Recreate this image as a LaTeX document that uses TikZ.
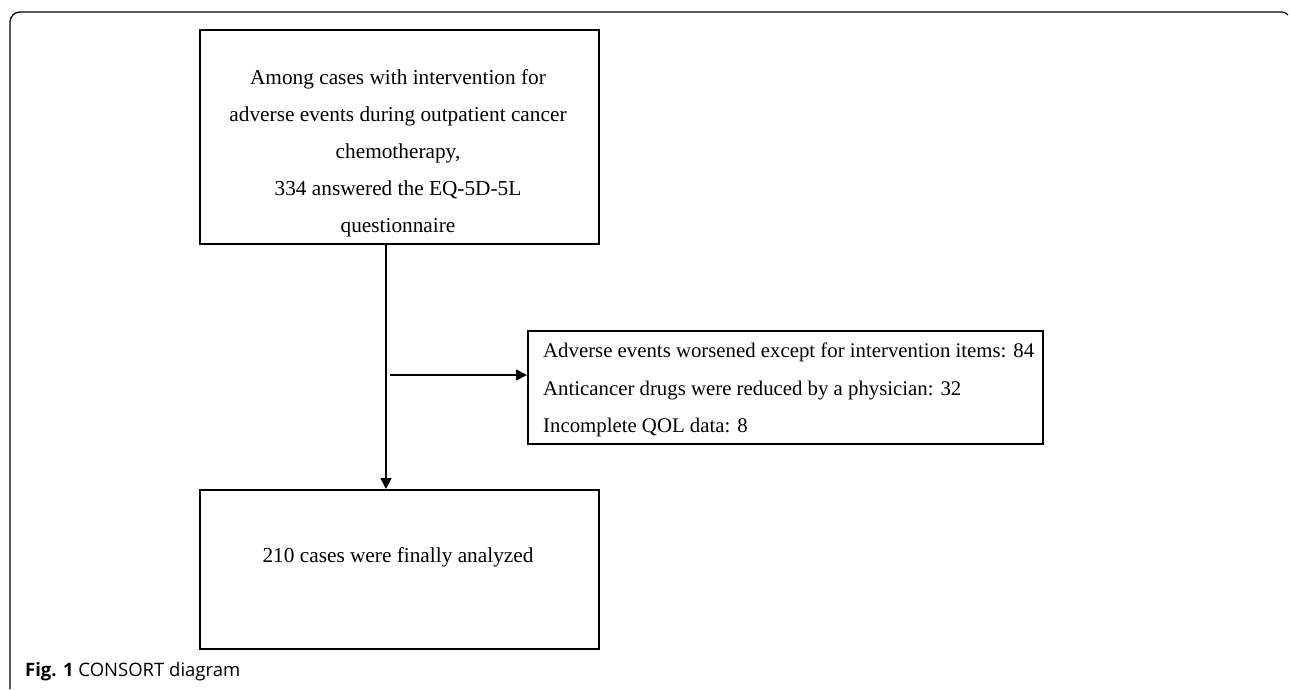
\documentclass[tikz,border=0pt]{standalone}
\usepackage{fontspec}
\setmainfont{Liberation Serif}
\newfontfamily\capfont{Open Sans}
\usetikzlibrary{arrows.meta}
\begin{document}
\begin{tikzpicture}[x=1pt,y=-1pt,
  box/.style={draw,line width=1.8pt,inner sep=0pt,anchor=north west},
  txt/.style={font=\fontsize{21.3}{37}\selectfont,align=center,inner sep=0pt},
  ltxt/.style={font=\fontsize{20.8}{37.5}\selectfont,align=left,inner sep=0pt,anchor=west},
  conn/.style={line width=1.7pt,-{Triangle[length=11pt,width=11pt]}}]
\useasboundingbox (0,0) rectangle (1290,689);
% frame
\draw[line width=1.2pt,rounded corners=10pt] (10,689) -- (10,12) -- (1282,12);
\draw[line width=1.2pt] (1282,12) to[out=0,in=135] (1288,15);
% boxes
\node[box,minimum width=399pt,minimum height=214pt] (top) at (199,29) {};
\node[box,minimum width=515pt,minimum height=113pt] (side) at (527,330) {};
\node[box,minimum width=399pt,minimum height=159pt] (bot) at (199,489) {};
% texts
\node[txt] (toptxt) at (398,153) {Among cases with intervention for\\adverse events during outpatient cancer\\chemotherapy,\\334 answered the EQ-5D-5L\\questionnaire};
\node[ltxt] (sidetxt) at (543,390) {Adverse events worsened except for intervention items: 84\\Anticancer drugs were reduced by a physician: 32\\Incomplete QOL data: 8};
\node[txt] (bottxt) at (398,557) {210 cases were finally analyzed};
% connectors
\coordinate (a1) at (386,243);
\coordinate (a2) at (386,489);
\coordinate (b1) at (390,375);
\coordinate (b2) at (527,375);
\draw[conn] (a1) -- (a2);
\draw[conn] (b1) -- (b2);
% caption
\node[anchor=west,inner sep=0pt,font=\capfont\fontsize{18.5}{20}\selectfont] (cap) at (25,672) {\textbf{Fig. 1} CONSORT diagram};
\end{tikzpicture}
\end{document}
